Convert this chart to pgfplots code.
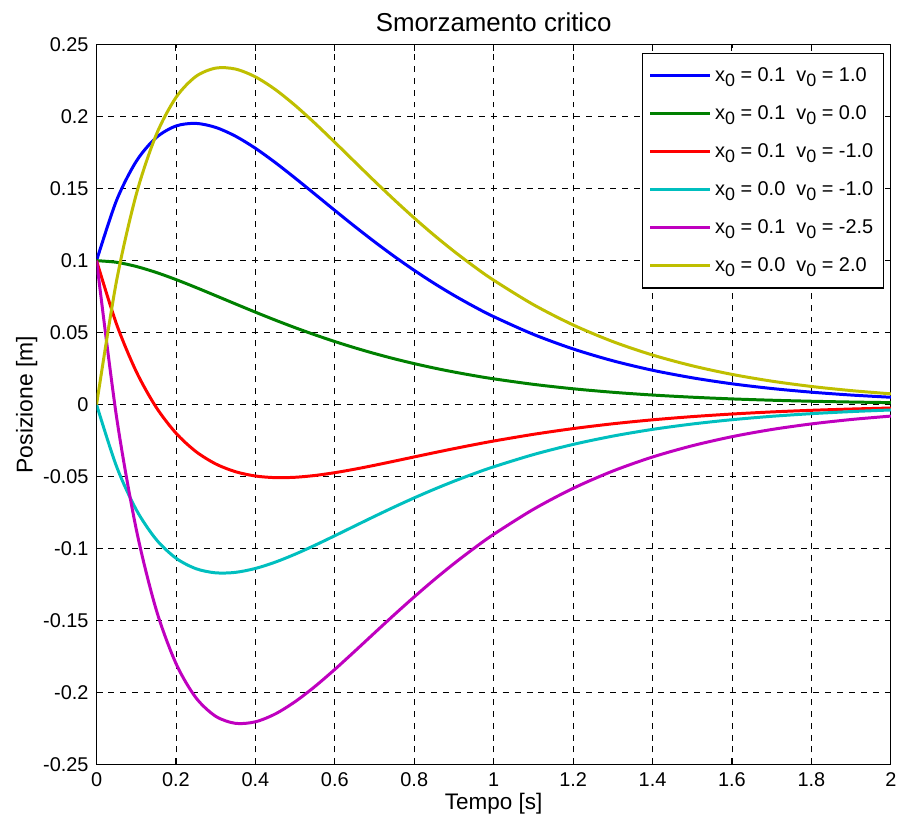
\documentclass[border=0pt]{standalone}
\usepackage{fontspec}
\setmainfont{Liberation Sans}
\usepackage{pgfplots}
\usepackage{pgfplotstable}
\pgfplotsset{compat=1.18}
\definecolor{mblue}{rgb}{0,0,1}
\definecolor{mgreen}{rgb}{0,0.5,0}
\definecolor{mred}{rgb}{1,0,0}
\definecolor{mcyan}{rgb}{0,0.75,0.75}
\definecolor{mmag}{rgb}{0.75,0,0.75}
\definecolor{myel}{rgb}{0.75,0.75,0}
\newcommand\sub[1]{\raisebox{-0.5ex}{\fontsize{9}{9}\selectfont #1}}
\pgfplotstableread{
t    b        g        r        c        m        y
0    0.1      0.1      0.1      0        0.1      0
0.05 0.14162  0.09889  0.05616  -0.04273 -0.00794 0.08546
0.1  0.16903  0.09599  0.02295  -0.07304 -0.08661 0.14608
0.15 0.18548  0.09184  -0.00180 -0.09364 -0.14226 0.18727
0.2  0.19357  0.08687  -0.01983 -0.10670 -0.17988 0.21340
0.25 0.19539  0.08140  -0.03259 -0.11399 -0.20358 0.22797
0.3  0.19259  0.07569  -0.04121 -0.11690 -0.21656 0.23380
0.35 0.18648  0.06992  -0.04664 -0.11656 -0.22148 0.23313
0.4  0.17808  0.06423  -0.04962 -0.11385 -0.22040 0.22770
0.45 0.16817  0.05871  -0.05075 -0.10946 -0.21494 0.21893
0.5  0.15738  0.05344  -0.05050 -0.10394 -0.20641 0.20788
0.55 0.14619  0.04847  -0.04925 -0.09772 -0.19583 0.19544
0.6  0.13492  0.04381  -0.04730 -0.09111 -0.18397 0.18222
0.65 0.12384  0.03948  -0.04488 -0.08436 -0.17142 0.16871
0.7  0.11312  0.03548  -0.04216 -0.07764 -0.15862 0.15527
0.75 0.10290  0.03181  -0.03928 -0.07109 -0.14592 0.14219
0.8  0.09327  0.02846  -0.03635 -0.06481 -0.13357 0.12962
0.85 0.08426  0.02541  -0.03344 -0.05885 -0.12172 0.11769
0.9  0.07590  0.02265  -0.03060 -0.05325 -0.11048 0.10651
0.95 0.06819  0.02015  -0.02789 -0.04804 -0.09995 0.09608
1.0  0.06111  0.01790  -0.02531 -0.04321 -0.09013 0.08642
1.1  0.04880  0.01407  -0.02066 -0.03473 -0.07276 0.06945
1.2  0.03867  0.01100  -0.01667 -0.02767 -0.05818 0.05534
1.3  0.03045  0.00856  -0.01333 -0.02189 -0.04617 0.04378
1.4  0.02386  0.00664  -0.01058 -0.01722 -0.03641 0.03444
1.5  0.01863  0.00514  -0.00835 -0.01349 -0.02859 0.02697
1.6  0.01445  0.00395  -0.00655 -0.01050 -0.02230 0.02099
1.7  0.01118  0.00304  -0.00510 -0.00814 -0.01731 0.01629
1.8  0.00863  0.00233  -0.00397 -0.00630 -0.01342 0.01260
1.9  0.00664  0.00178  -0.00308 -0.00486 -0.01037 0.00973
2.0  0.00510  0.00136  -0.00238 -0.00374 -0.00799 0.00748
}\data
\begin{document}
\begin{tikzpicture}
\begin{axis}[
  at={(0,0)}, anchor=south west,
  scale only axis,
  width=399pt, height=361.5pt,
  xmin=0, xmax=2, ymin=-0.25, ymax=0.25,
  xtick={0,0.2,...,2.01},
  xticklabels={0,0.2,0.4,0.6,0.8,1,1.2,1.4,1.6,1.8,2},
  ytick={-0.25,-0.2,-0.15,-0.1,-0.05,0,0.05,0.1,0.15,0.2,0.25},
  yticklabels={-0.25,-0.2,-0.15,-0.1,-0.05,0,0.05,0.1,0.15,0.2,0.25},
  tick align=inside,
  major tick length=3pt,
  tick style={black, line width=0.5pt},
  grid=major,
  major grid style={black, dashed, line width=0.4pt},
  axis line style={black, line width=0.6pt},
  tick label style={font=\fontsize{10}{11}\selectfont},
  xticklabel style={yshift=-0.5pt},
  yticklabel style={xshift=-0.5pt},
  xlabel={Tempo [s]},
  ylabel={Posizione [m]},
  xlabel style={font=\fontsize{11.3}{13}\selectfont, yshift=3.5pt},
  ylabel style={font=\fontsize{11.5}{13}\selectfont, yshift=-4pt},
  title={Smorzamento critico},
  title style={font=\fontsize{13}{15}\selectfont, yshift=-3pt},
  legend style={at={(1,1)}, anchor=north east, xshift=-3.5pt, yshift=-4pt,
    draw=black, line width=0.6pt, font=\fontsize{10}{11}\selectfont,
    row sep=6.6pt, inner xsep=3pt, inner ysep=5pt, fill=white},
  legend cell align=left,
  legend image code/.code={\draw[#1, line width=1.5pt] (0cm,0cm) -- (1.05cm,0cm);},
  every axis plot/.append style={line width=1.5pt, smooth},
]
\addplot[mblue] table[x=t,y=b]{\data};
\addlegendentry{x\sub{0} = 0.1\ \ v\sub{0} = 1.0}
\addplot[mgreen] table[x=t,y=g]{\data};
\addlegendentry{x\sub{0} = 0.1\ \ v\sub{0} = 0.0}
\addplot[mred] table[x=t,y=r]{\data};
\addlegendentry{x\sub{0} = 0.1\ \ v\sub{0} = -1.0}
\addplot[mcyan] table[x=t,y=c]{\data};
\addlegendentry{x\sub{0} = 0.0\ \ v\sub{0} = -1.0}
\addplot[mmag] table[x=t,y=m]{\data};
\addlegendentry{x\sub{0} = 0.1\ \ v\sub{0} = -2.5}
\addplot[myel] table[x=t,y=y]{\data};
\addlegendentry{x\sub{0} = 0.0\ \ v\sub{0} = 2.0}
\end{axis}
\path (-48.5pt,-27.5pt) rectangle (403pt,384pt);
\end{tikzpicture}
\end{document}
